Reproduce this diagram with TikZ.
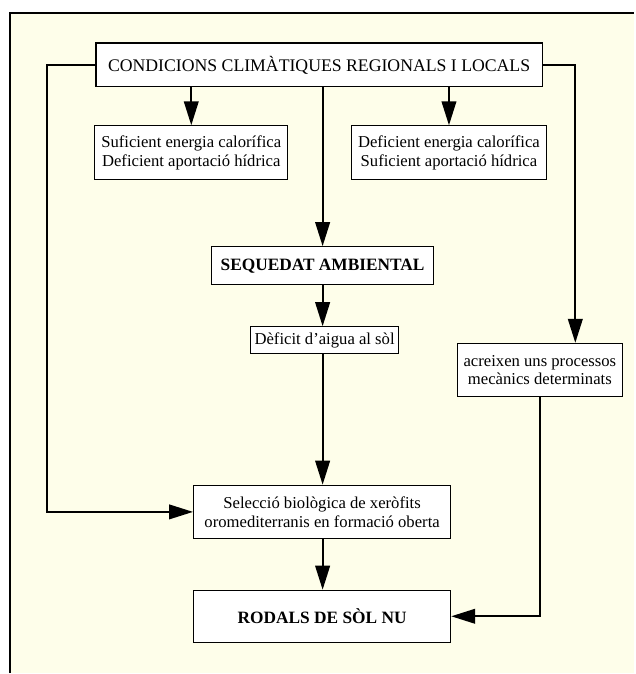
\documentclass[tikz,border=0pt]{standalone}
\usepackage{fontspec}
\setmainfont{Liberation Serif}
\usetikzlibrary{arrows.meta}

\definecolor{paper}{HTML}{FEFEEA}
\tikzset{
	box/.style={draw, line width=0.9pt, fill=white, align=center, inner sep=2pt,
		font=\fontsize{12.5}{14}\selectfont},
	caps/.style={font=\fontsize{13.3}{14.5}\selectfont},
	boldcaps/.style={font=\fontsize{13}{14.5}\selectfont\bfseries},
	conn/.style={line width=1.4pt},
	arr/.style={conn, -{Triangle[length=18pt, width=11pt]}}
}

\begin{document}
\begin{tikzpicture}[x=0.75pt, y=-0.75pt]
	\fill[white] (0,0) rectangle (635,674);
	\fill[paper] (10,13) rectangle (635,674);
	\draw[line width=1.2pt] (10,674) -- (10,13) -- (635,13);

	\node[box, caps, minimum width=335pt, minimum height=33pt] (clima) at (319.5,65) {CONDICIONS CLIMÀTIQUES REGIONALS I LOCALS};
	\node[box, minimum width=145pt, minimum height=40.5pt] (suf) at (191.5,153) {Suficient energia calorífica\\Deficient aportació hídrica};
	\node[box, minimum width=146pt, minimum height=40.5pt] (def) at (449.5,153) {Deficient energia calorífica\\Suficient aportació hídrica};
	\node[box, boldcaps, minimum width=166.5pt, minimum height=28.5pt] (seq) at (323,266) {SEQUEDAT AMBIENTAL};
	\node[box, minimum width=111pt, minimum height=20pt] (dfc) at (325,340.5) {Dèficit d’aigua al sòl};
	\node[box, minimum width=124pt, minimum height=40pt] (acr) at (540.5,370.5) {acreixen uns processos\\mecànics determinats};
	\node[box, minimum width=193pt, minimum height=40pt] (sel) at (322.5,512.5) {Selecció biològica de xeròfits\\oromediterranis en formació oberta};
	\node[box, boldcaps, minimum width=193pt, minimum height=39pt] (rod) at (322.5,617) {RODALS DE SÒL NU};

	\coordinate (lrail) at (47,300);
	\coordinate (rrail) at (576,200);

	% side branches
	\draw[arr] (clima.west) -| (lrail) |- (sel.west);
	\draw[arr] (clima.east) -| (rrail) -- (rrail |- acr.north);
	\draw[arr] (acr.south) |- (rod.east);
	% down the middle
	\draw[arr] (clima.south -| suf) -- (suf.north);
	\draw[arr] (clima.south -| def) -- (def.north);
	\draw[arr] (clima.south -| seq) -- (seq.north);
	\draw[arr] (seq.south) -- (seq.south |- dfc.north);
	\draw[arr] (dfc.south -| seq) -- (sel.north -| seq);
	\draw[arr] (sel.south -| seq) -- (rod.north -| seq);
\end{tikzpicture}
\end{document}
